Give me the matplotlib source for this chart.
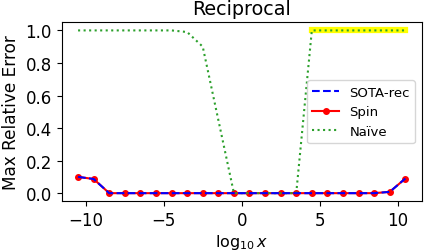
import numpy as np
import matplotlib
matplotlib.use("Agg")
import matplotlib.pyplot as plt

# data
log_x = np.arange(-10.5, 11.0, 1.0)
sota_rec = [0.10, 0.087, 0, 0, 0, 0, 0, 0, 0, 0, 0,
            0, 0, 0, 0, 0, 0, 0, 0, 0, 0.008, 0.09]
spin = [0.10, 0.087, 0, 0, 0, 0, 0, 0, 0, 0, 0,
        0, 0, 0, 0, 0, 0, 0, 0, 0, 0.008, 0.09]
naive = [1.0, 1.0, 1.0, 1.0, 1.0, 1.0, 1.0, 0.99, 0.9, 0.45, 0.0,
         0.0, 0.0, 0.0, 0.0, 1.0, 1.0, 1.0, 1.0, 1.0, 1.0, 1.0]
highlight_from = 15  # index where naive jumps back to 1.0
y_ticks = [0.0, 0.2, 0.4, 0.6, 0.8, 1.0]

plt.rcParams.update({
    "font.family": "DejaVu Sans",
    "font.size": 11.5,
    "xtick.labelsize": 12,
    "ytick.labelsize": 12,
    "legend.fontsize": 9.5,
})

fig = plt.figure(figsize=(4.27, 2.53), dpi=100)
ax = fig.add_axes([0.1445, 0.2004, 0.8431, 0.7076])

# yellow highlight behind the saturated naive segment
ax.plot(log_x[highlight_from:], naive[highlight_from:], color="yellow",
        lw=4.5, solid_capstyle="projecting", zorder=1)

ax.plot(log_x, spin, color="red", marker="o", markersize=4, lw=1.5,
        label="Spin", zorder=2)
ax.plot(log_x, sota_rec, color="blue", linestyle="--", lw=1.5,
        label="SOTA-rec", zorder=3)
ax.plot(log_x, naive, color="tab:green", linestyle=":", lw=1.5,
        label="Naïve", zorder=2)

ax.set_yticks(y_ticks)
ax.set_yticklabels([f"{t:.1f}" for t in y_ticks])

handles, labels = ax.get_legend_handles_labels()
order = [labels.index(n) for n in ["SOTA-rec", "Spin", "Naïve"]]
ax.legend([handles[i] for i in order], [labels[i] for i in order],
          loc="center right")

ax.set_xlabel(r"$\log_{10}x$", fontsize=11.5, labelpad=2)
ax.set_ylabel("Max Relative Error", fontsize=12.2)
ax.set_title("Reciprocal")

fig.savefig("out.png", dpi=100)
